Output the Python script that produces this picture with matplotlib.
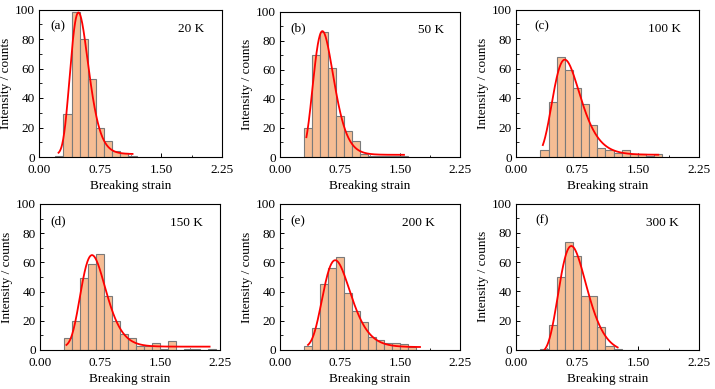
import numpy as np
import matplotlib
matplotlib.use("Agg")
import matplotlib.pyplot as plt
from matplotlib.ticker import MultipleLocator

# histogram data (bin width 0.1, first bin edge per panel)
temps = ["20 K", "50 K", "100 K", "150 K", "200 K", "300 K"]
tags = ["(a)", "(b)", "(c)", "(d)", "(e)", "(f)"]
bin_width = 0.1
bin_start = [0.2, 0.3, 0.3, 0.3, 0.3, 0.3]
counts_20 = [1, 29, 98, 80, 53, 20, 11, 4, 3, 1]
counts_50 = [20, 70, 86, 61, 28, 18, 11, 2, 1, 1, 1, 1, 1]
counts_100 = [5, 37, 68, 59, 47, 36, 22, 6, 5, 3, 5, 2, 2, 1, 2]
counts_150 = [8, 20, 49, 59, 66, 37, 20, 11, 8, 3, 3, 5, 1, 6, 0, 1, 1, 0, 1]
counts_200 = [3, 15, 45, 56, 64, 39, 27, 19, 9, 7, 5, 5, 4, 2]
counts_300 = [1, 17, 50, 74, 64, 37, 37, 16, 3, 1]
all_counts = [counts_20, counts_50, counts_100, counts_150, counts_200, counts_300]

# log-normal fit parameters
fit_mode = [0.485, 0.53, 0.60, 0.65, 0.69, 0.68]
fit_peak = [96, 85, 64.5, 62.7, 59.5, 73]
fit_width = [0.23, 0.24, 0.28, 0.24, 0.25, 0.25]
fit_base = [2, 1.5, 1.5, 2.3, 2, -2]
fit_from = [0.24, 0.33, 0.33, 0.33, 0.35, 0.35]
fit_to = [1.15, 1.55, 1.75, 2.12, 1.75, 1.25]

# axes boxes in pixels (left, top, right, bottom) on a 715x389 canvas
W, H = 715, 389
boxes = [(39, 9.5, 222, 157), (280, 11.5, 460, 157), (516, 9.5, 699, 157),
         (40, 204, 220, 350), (280, 204, 460, 350), (516, 203.5, 699, 350)]
tag_x = [0.06, 0.06, 0.10, 0.055, 0.06, 0.105]
temp_x = [0.83, 0.84, 0.81, 0.815, 0.77, 0.80]

plt.rcParams['font.family'] = ['Liberation Serif', 'DejaVu Serif']
plt.rcParams['font.size'] = 9.5

fig = plt.figure(figsize=(W / 100, H / 100), dpi=100)

for i in range(6):
    l, t, r, b = boxes[i]
    ax = fig.add_axes([l / W, 1 - b / H, (r - l) / W, (b - t) / H])
    counts = all_counts[i]
    edges = bin_start[i] + bin_width * np.arange(len(counts))
    ax.bar(edges, counts, width=bin_width, align='edge', color='#F6BD94',
           edgecolor='#7A7A7A', linewidth=0.8, zorder=2)
    x = np.linspace(fit_from[i], fit_to[i], 300)
    y = fit_base[i] + fit_peak[i] * np.exp(-np.log(x / fit_mode[i]) ** 2 / (2 * fit_width[i] ** 2))
    ax.plot(x, y, color='#FF0000', linewidth=1.3, zorder=3)

    ax.set_xlim(0, 2.25)
    ax.set_ylim(0, 100)
    ax.xaxis.set_major_locator(MultipleLocator(0.75))
    ax.xaxis.set_minor_locator(MultipleLocator(0.375))
    ax.yaxis.set_major_locator(MultipleLocator(20))
    ax.yaxis.set_minor_locator(MultipleLocator(10))
    ax.xaxis.set_major_formatter(plt.FuncFormatter(lambda v, p: "%.2f" % v))
    ax.tick_params(which='major', direction='in', length=3, width=0.7)
    ax.tick_params(which='minor', direction='in', length=1.8, width=0.6)
    ax.tick_params(axis='x', which='major', pad=5)
    ax.tick_params(axis='y', which='major', pad=3)
    for s in ax.spines.values():
        s.set_linewidth(0.8)
    ax.set_xlabel("Breaking strain", labelpad=3)
    ax.set_ylabel("Intensity / counts", labelpad=2)
    ax.text(tag_x[i], 0.885, tags[i], transform=ax.transAxes, va='center', ha='left')
    ax.text(temp_x[i], 0.87, temps[i], transform=ax.transAxes, va='center', ha='center')

fig.savefig("out.png", dpi=100)
